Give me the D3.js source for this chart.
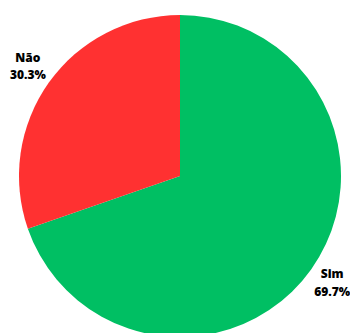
<!DOCTYPE html>
<html>
<head>
<meta charset="utf-8">
<script src="https://cdn.jsdelivr.net/npm/d3@7"></script>
<style>
  html, body { margin: 0; padding: 0; background: #ffffff; }
  svg { display: block; }
</style>
</head>
<body>
<svg id="chart" width="350" height="333"></svg>
<script>
// Responses and their shares
const categories = ["Sim", "Não"];
const values = [69.7, 30.3];
const colors = ["#00bf63", "#ff3131"];

const width = 350, height = 333;
const cx = 180, cy = 176, radius = 161;

const svg = d3.select("#chart");
const g = svg.append("g").attr("transform", `translate(${cx},${cy})`);

const data = categories.map((c, i) => ({ label: c, value: values[i], color: colors[i] }));

const pie = d3.pie().value(d => d.value).sort(null);
const arcs = pie(data);

const arc = d3.arc().innerRadius(0).outerRadius(radius);
const labelArc = d3.arc().innerRadius(radius * 1.16).outerRadius(radius * 1.16);

g.selectAll("path.slice")
  .data(arcs)
  .join("path")
  .attr("class", "slice")
  .attr("d", arc)
  .attr("fill", d => d.data.color);

const labels = g.selectAll("text.label")
  .data(arcs)
  .join("text")
  .attr("class", "label")
  .attr("transform", d => `translate(${labelArc.centroid(d)})`)
  .attr("text-anchor", "middle")
  .attr("font-family", "'Open Sans', sans-serif")
  .attr("font-weight", 800)
  .attr("font-size", 12)
  .attr("fill", "#000");

labels.append("tspan")
  .attr("x", 0)
  .attr("dy", "-0.5em")
  .text(d => d.data.label);

labels.append("tspan")
  .attr("x", 0)
  .attr("dy", "1.45em")
  .text(d => d.data.value.toFixed(1) + "%");
</script>
</body>
</html>
